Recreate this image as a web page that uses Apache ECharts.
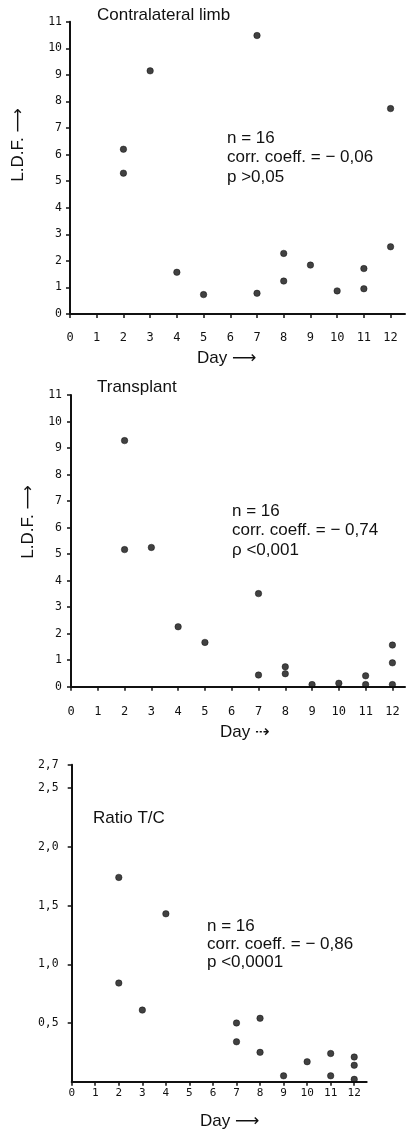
<!DOCTYPE html>
<html>
<head>
<meta charset="utf-8">
<style>
  html, body { margin: 0; padding: 0; background: #fff; }
  #chart { width: 408px; height: 1130px; }
</style>
<script src="https://cdn.jsdelivr.net/npm/echarts@6/dist/echarts.min.js"></script>
</head>
<body>
<div id="chart"></div>
<script>
// ---- data ----
const dayTicks = [0, 1, 2, 3, 4, 5, 6, 7, 8, 9, 10, 11, 12];
const ldfTicks = [0, 1, 2, 3, 4, 5, 6, 7, 8, 9, 10, 11];
const ratioTicks = [0.5, 1.0, 1.5, 2.0, 2.5, 2.7];

const contraDays = [2, 2, 3, 4, 5, 7, 7, 8, 8, 9, 10, 11, 11, 12, 12];
const contraLDF  = [6.2, 5.3, 9.15, 1.57, 0.73, 10.48, 0.78, 2.28, 1.24, 1.84, 0.87, 1.71, 0.95, 7.73, 2.53];

const transDays = [2, 2, 3, 4, 5, 7, 7, 8, 8, 9, 10, 11, 11, 12, 12, 12];
const transLDF  = [9.28, 5.17, 5.25, 2.26, 1.67, 3.51, 0.44, 0.75, 0.49, 0.08, 0.13, 0.41, 0.08, 1.57, 0.9, 0.08];

const ratioDays = [2, 2, 3, 4, 7, 7, 8, 8, 9, 10, 11, 11, 12, 12, 12];
const ratioTC   = [1.74, 0.84, 0.61, 1.43, 0.50, 0.34, 0.54, 0.25, 0.05, 0.17, 0.24, 0.05, 0.21, 0.14, 0.02];

const titles = ['Contralateral limb', 'Transplant', 'Ratio T/C'];
const statsN = ['n = 16', 'n = 16', 'n = 16'];
const statsR = ['corr. coeff. = \u2212 0,06', 'corr. coeff. = \u2212 0,74', 'corr. coeff. = \u2212 0,86'];
const statsP = ['p >0,05', '\u03c1 <0,001', 'p <0,0001'];

// ---- chart ----
const INK = '#111';
const TICKFONT = '"DejaVu Sans Mono", "Liberation Mono", monospace';
const TEXTFONT = '"Liberation Sans", Arial, "DejaVu Sans", sans-serif';

function zip(xs, ys) { return xs.map((x, i) => [x, ys[i]]); }

function makeX(gi, max, margin, fs) {
  return {
    type: 'value', gridIndex: gi, min: 0, max: max,
    axisLine: { show: true, onZero: false, lineStyle: { color: INK, width: 2 } },
    axisTick: { show: true, inside: false, length: 4, customValues: dayTicks, lineStyle: { color: INK, width: 1.5 } },
    axisLabel: { show: true, customValues: dayTicks, margin: margin, fontFamily: TICKFONT, fontSize: fs, color: INK },
    splitLine: { show: false }
  };
}
function makeY(gi, max, ticks, margin, fmt) {
  return {
    type: 'value', gridIndex: gi, min: 0, max: max,
    axisLine: { show: true, onZero: false, lineStyle: { color: INK, width: 2 } },
    axisTick: { show: true, inside: false, length: 4, customValues: ticks, lineStyle: { color: INK, width: 1.5 } },
    axisLabel: { show: true, customValues: ticks, margin: margin, fontFamily: TICKFONT, fontSize: 11.5, color: INK, formatter: fmt },
    splitLine: { show: false }
  };
}
function scatter(gi, xs, ys) {
  return {
    type: 'scatter', xAxisIndex: gi, yAxisIndex: gi,
    data: zip(xs, ys), symbol: 'circle', symbolSize: 6.5,
    itemStyle: { color: '#111', borderColor: '#000', borderWidth: 0.5 }
  };
}
function txt(x, y, s, fs, opts) {
  return Object.assign({
    type: 'text', x: x, y: y,
    style: { text: s, font: fs + 'px ' + TEXTFONT, fill: INK, textAlign: 'left', textVerticalAlign: 'middle' }
  }, opts || {});
}

const statsX = [227, 232, 207];
const statsY = [138, 511, 926];
const statsLH = [19.5, 19.5, 18];

const graphics = [
  txt(97, 15, titles[0], 17),
  txt(97, 387, titles[1], 17),
  txt(93, 818, titles[2], 17),
  txt(197, 358, 'Day \u27f6', 17),
  txt(220, 732, 'Day \u21e2', 17),
  txt(200, 1121, 'Day \u27f6', 17),
  { type: 'text', x: 18, y: 145, rotation: Math.PI / 2,
    style: { text: 'L.D.F. \u27f6', font: '17px ' + TEXTFONT, fill: INK, textAlign: 'center', textVerticalAlign: 'middle' } },
  { type: 'text', x: 28, y: 522, rotation: Math.PI / 2,
    style: { text: 'L.D.F. \u27f6', font: '17px ' + TEXTFONT, fill: INK, textAlign: 'center', textVerticalAlign: 'middle' } }
];
for (let i = 0; i < 3; i++) {
  graphics.push(txt(statsX[i], statsY[i], statsN[i], 17));
  graphics.push(txt(statsX[i], statsY[i] + statsLH[i], statsR[i], 17));
  graphics.push(txt(statsX[i], statsY[i] + 2 * statsLH[i], statsP[i], 17));
}

const ratioFmt = v => v.toFixed(1).replace('.', ',');

const option = {
  animation: false,
  backgroundColor: '#fff',
  grid: [
    { left: 70, top: 21.7, width: 335, height: 292.3, containLabel: false, outerBoundsMode: 'none' },
    { left: 71, top: 395, width: 334, height: 291.7, containLabel: false, outerBoundsMode: 'none' },
    { left: 71.7, top: 764.7, width: 295, height: 317, containLabel: false, outerBoundsMode: 'none' }
  ],
  xAxis: [ makeX(0, 12.54, 18, 12), makeX(1, 12.47, 19, 12), makeX(2, 12.53, 6, 11) ],
  yAxis: [ makeY(0, 11, ldfTicks, 8), makeY(1, 11, ldfTicks, 9), makeY(2, 2.7, ratioTicks, 13, ratioFmt) ],
  series: [ scatter(0, contraDays, contraLDF), scatter(1, transDays, transLDF), scatter(2, ratioDays, ratioTC) ],
  graphic: graphics
};

const chart = echarts.init(document.getElementById('chart'), null, { renderer: 'canvas' });
chart.setOption(option);
</script>
</body>
</html>
